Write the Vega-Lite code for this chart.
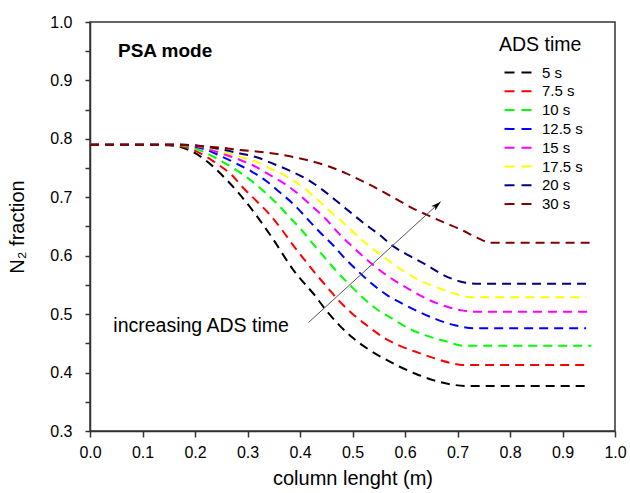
{
  "$schema": "https://vega.github.io/schema/vega-lite/v6.json",
  "width": 525,
  "height": 409,
  "autosize": {"type": "none"},
  "padding": {"left": 90, "top": 22, "right": 15, "bottom": 62},
  "background": "white",
  "config": {
    "font": "Liberation Sans",
    "view": {"stroke": "#333333", "strokeWidth": 1.5},
    "axis": {
      "grid": false,
      "domainColor": "#333333",
      "domainWidth": 1.5,
      "tickColor": "#333333",
      "tickWidth": 1.5,
      "labelColor": "#000000",
      "labelFontSize": 16,
      "labelFont": "Liberation Sans",
      "titleColor": "#000000",
      "titleFont": "Liberation Sans",
      "titleFontSize": 20,
      "titleFontWeight": "normal",
      "labelFlush": false,
      "labelOverlap": false
    },
    "axisX": {
      "values": [0, 0.1, 0.2, 0.3, 0.4, 0.5, 0.6, 0.7, 0.8, 0.9, 1.0],
      "format": ".1f",
      "tickSize": 6,
      "labelPadding": 7,
      "titlePadding": 8
    },
    "axisY": {
      "values": [0.3, 0.35, 0.4, 0.45, 0.5, 0.55, 0.6, 0.65, 0.7, 0.75, 0.8, 0.85, 0.9, 0.95, 1.0],
      "labelExpr": "abs(datum.value*10 - round(datum.value*10)) < 0.01 ? format(datum.value, '.1f') : ''",
      "tickSize": 5,
      "labelPadding": 13,
      "titlePadding": 22
    }
  },
  "datasets": {
    "curves": [
      {"s": "5 s", "x": 0, "y": 0.79}, {"s": "5 s", "x": 0.1, "y": 0.79}, {"s": "5 s", "x": 0.15, "y": 0.789}, {"s": "5 s", "x": 0.18, "y": 0.784}, {"s": "5 s", "x": 0.21, "y": 0.77}, {"s": "5 s", "x": 0.26, "y": 0.73}, {"s": "5 s", "x": 0.305, "y": 0.683}, {"s": "5 s", "x": 0.346, "y": 0.632}, {"s": "5 s", "x": 0.387, "y": 0.576}, {"s": "5 s", "x": 0.43, "y": 0.53}, {"s": "5 s", "x": 0.452, "y": 0.504}, {"s": "5 s", "x": 0.476, "y": 0.48}, {"s": "5 s", "x": 0.5, "y": 0.46}, {"s": "5 s", "x": 0.53, "y": 0.44}, {"s": "5 s", "x": 0.56, "y": 0.424}, {"s": "5 s", "x": 0.59, "y": 0.41}, {"s": "5 s", "x": 0.62, "y": 0.398}, {"s": "5 s", "x": 0.654, "y": 0.387}, {"s": "5 s", "x": 0.686, "y": 0.38}, {"s": "5 s", "x": 0.72, "y": 0.377}, {"s": "5 s", "x": 0.945, "y": 0.377},

      {"s": "7.5 s", "x": 0, "y": 0.79}, {"s": "7.5 s", "x": 0.15, "y": 0.79}, {"s": "7.5 s", "x": 0.18, "y": 0.786}, {"s": "7.5 s", "x": 0.213, "y": 0.774}, {"s": "7.5 s", "x": 0.241, "y": 0.758}, {"s": "7.5 s", "x": 0.27, "y": 0.738}, {"s": "7.5 s", "x": 0.293, "y": 0.715}, {"s": "7.5 s", "x": 0.319, "y": 0.692}, {"s": "7.5 s", "x": 0.343, "y": 0.67}, {"s": "7.5 s", "x": 0.365, "y": 0.645}, {"s": "7.5 s", "x": 0.386, "y": 0.619}, {"s": "7.5 s", "x": 0.406, "y": 0.596}, {"s": "7.5 s", "x": 0.429, "y": 0.57}, {"s": "7.5 s", "x": 0.451, "y": 0.547}, {"s": "7.5 s", "x": 0.473, "y": 0.524}, {"s": "7.5 s", "x": 0.498, "y": 0.502}, {"s": "7.5 s", "x": 0.527, "y": 0.481}, {"s": "7.5 s", "x": 0.556, "y": 0.462}, {"s": "7.5 s", "x": 0.587, "y": 0.447}, {"s": "7.5 s", "x": 0.619, "y": 0.436}, {"s": "7.5 s", "x": 0.651, "y": 0.426}, {"s": "7.5 s", "x": 0.689, "y": 0.416}, {"s": "7.5 s", "x": 0.71, "y": 0.413}, {"s": "7.5 s", "x": 0.945, "y": 0.413},

      {"s": "10 s", "x": 0, "y": 0.79}, {"s": "10 s", "x": 0.15, "y": 0.79}, {"s": "10 s", "x": 0.185, "y": 0.787}, {"s": "10 s", "x": 0.216, "y": 0.778}, {"s": "10 s", "x": 0.244, "y": 0.765}, {"s": "10 s", "x": 0.273, "y": 0.75}, {"s": "10 s", "x": 0.302, "y": 0.732}, {"s": "10 s", "x": 0.329, "y": 0.712}, {"s": "10 s", "x": 0.354, "y": 0.691}, {"s": "10 s", "x": 0.378, "y": 0.668}, {"s": "10 s", "x": 0.403, "y": 0.644}, {"s": "10 s", "x": 0.426, "y": 0.619}, {"s": "10 s", "x": 0.448, "y": 0.596}, {"s": "10 s", "x": 0.47, "y": 0.573}, {"s": "10 s", "x": 0.495, "y": 0.55}, {"s": "10 s", "x": 0.521, "y": 0.527}, {"s": "10 s", "x": 0.547, "y": 0.508}, {"s": "10 s", "x": 0.578, "y": 0.491}, {"s": "10 s", "x": 0.606, "y": 0.476}, {"s": "10 s", "x": 0.638, "y": 0.464}, {"s": "10 s", "x": 0.676, "y": 0.454}, {"s": "10 s", "x": 0.711, "y": 0.446}, {"s": "10 s", "x": 0.955, "y": 0.446},

      {"s": "12.5 s", "x": 0, "y": 0.79}, {"s": "12.5 s", "x": 0.16, "y": 0.79}, {"s": "12.5 s", "x": 0.19, "y": 0.788}, {"s": "12.5 s", "x": 0.219, "y": 0.782}, {"s": "12.5 s", "x": 0.248, "y": 0.771}, {"s": "12.5 s", "x": 0.278, "y": 0.758}, {"s": "12.5 s", "x": 0.308, "y": 0.744}, {"s": "12.5 s", "x": 0.337, "y": 0.727}, {"s": "12.5 s", "x": 0.362, "y": 0.708}, {"s": "12.5 s", "x": 0.389, "y": 0.687}, {"s": "12.5 s", "x": 0.413, "y": 0.664}, {"s": "12.5 s", "x": 0.437, "y": 0.641}, {"s": "12.5 s", "x": 0.464, "y": 0.617}, {"s": "12.5 s", "x": 0.486, "y": 0.595}, {"s": "12.5 s", "x": 0.511, "y": 0.573}, {"s": "12.5 s", "x": 0.537, "y": 0.552}, {"s": "12.5 s", "x": 0.565, "y": 0.533}, {"s": "12.5 s", "x": 0.597, "y": 0.517}, {"s": "12.5 s", "x": 0.629, "y": 0.503}, {"s": "12.5 s", "x": 0.66, "y": 0.491}, {"s": "12.5 s", "x": 0.695, "y": 0.481}, {"s": "12.5 s", "x": 0.73, "y": 0.476}, {"s": "12.5 s", "x": 0.945, "y": 0.476},

      {"s": "15 s", "x": 0, "y": 0.79}, {"s": "15 s", "x": 0.16, "y": 0.79}, {"s": "15 s", "x": 0.19, "y": 0.789}, {"s": "15 s", "x": 0.22, "y": 0.784}, {"s": "15 s", "x": 0.251, "y": 0.775}, {"s": "15 s", "x": 0.283, "y": 0.765}, {"s": "15 s", "x": 0.312, "y": 0.754}, {"s": "15 s", "x": 0.343, "y": 0.738}, {"s": "15 s", "x": 0.371, "y": 0.723}, {"s": "15 s", "x": 0.399, "y": 0.704}, {"s": "15 s", "x": 0.425, "y": 0.683}, {"s": "15 s", "x": 0.45, "y": 0.662}, {"s": "15 s", "x": 0.473, "y": 0.639}, {"s": "15 s", "x": 0.498, "y": 0.617}, {"s": "15 s", "x": 0.524, "y": 0.596}, {"s": "15 s", "x": 0.552, "y": 0.575}, {"s": "15 s", "x": 0.581, "y": 0.557}, {"s": "15 s", "x": 0.613, "y": 0.54}, {"s": "15 s", "x": 0.644, "y": 0.525}, {"s": "15 s", "x": 0.679, "y": 0.513}, {"s": "15 s", "x": 0.711, "y": 0.506}, {"s": "15 s", "x": 0.73, "y": 0.504}, {"s": "15 s", "x": 0.955, "y": 0.504},

      {"s": "17.5 s", "x": 0, "y": 0.79}, {"s": "17.5 s", "x": 0.16, "y": 0.79}, {"s": "17.5 s", "x": 0.19, "y": 0.789}, {"s": "17.5 s", "x": 0.222, "y": 0.786}, {"s": "17.5 s", "x": 0.254, "y": 0.778}, {"s": "17.5 s", "x": 0.283, "y": 0.77}, {"s": "17.5 s", "x": 0.316, "y": 0.761}, {"s": "17.5 s", "x": 0.346, "y": 0.748}, {"s": "17.5 s", "x": 0.378, "y": 0.734}, {"s": "17.5 s", "x": 0.406, "y": 0.717}, {"s": "17.5 s", "x": 0.432, "y": 0.697}, {"s": "17.5 s", "x": 0.456, "y": 0.677}, {"s": "17.5 s", "x": 0.483, "y": 0.656}, {"s": "17.5 s", "x": 0.509, "y": 0.634}, {"s": "17.5 s", "x": 0.537, "y": 0.613}, {"s": "17.5 s", "x": 0.565, "y": 0.594}, {"s": "17.5 s", "x": 0.595, "y": 0.575}, {"s": "17.5 s", "x": 0.625, "y": 0.559}, {"s": "17.5 s", "x": 0.657, "y": 0.547}, {"s": "17.5 s", "x": 0.692, "y": 0.536}, {"s": "17.5 s", "x": 0.727, "y": 0.529}, {"s": "17.5 s", "x": 0.945, "y": 0.529},

      {"s": "20 s", "x": 0, "y": 0.79}, {"s": "20 s", "x": 0.17, "y": 0.79}, {"s": "20 s", "x": 0.2, "y": 0.789}, {"s": "20 s", "x": 0.225, "y": 0.786}, {"s": "20 s", "x": 0.256, "y": 0.781}, {"s": "20 s", "x": 0.286, "y": 0.775}, {"s": "20 s", "x": 0.319, "y": 0.768}, {"s": "20 s", "x": 0.35, "y": 0.757}, {"s": "20 s", "x": 0.382, "y": 0.745}, {"s": "20 s", "x": 0.413, "y": 0.731}, {"s": "20 s", "x": 0.441, "y": 0.714}, {"s": "20 s", "x": 0.469, "y": 0.694}, {"s": "20 s", "x": 0.495, "y": 0.675}, {"s": "20 s", "x": 0.521, "y": 0.656}, {"s": "20 s", "x": 0.551, "y": 0.636}, {"s": "20 s", "x": 0.578, "y": 0.616}, {"s": "20 s", "x": 0.608, "y": 0.6}, {"s": "20 s", "x": 0.641, "y": 0.584}, {"s": "20 s", "x": 0.673, "y": 0.567}, {"s": "20 s", "x": 0.705, "y": 0.556}, {"s": "20 s", "x": 0.74, "y": 0.552}, {"s": "20 s", "x": 0.955, "y": 0.552},

      {"s": "30 s", "x": 0, "y": 0.79}, {"s": "30 s", "x": 0.18, "y": 0.79}, {"s": "30 s", "x": 0.216, "y": 0.787}, {"s": "30 s", "x": 0.251, "y": 0.785}, {"s": "30 s", "x": 0.286, "y": 0.781}, {"s": "30 s", "x": 0.321, "y": 0.778}, {"s": "30 s", "x": 0.356, "y": 0.774}, {"s": "30 s", "x": 0.392, "y": 0.768}, {"s": "30 s", "x": 0.425, "y": 0.761}, {"s": "30 s", "x": 0.454, "y": 0.753}, {"s": "30 s", "x": 0.488, "y": 0.741}, {"s": "30 s", "x": 0.518, "y": 0.728}, {"s": "30 s", "x": 0.549, "y": 0.714}, {"s": "30 s", "x": 0.581, "y": 0.698}, {"s": "30 s", "x": 0.613, "y": 0.682}, {"s": "30 s", "x": 0.644, "y": 0.669}, {"s": "30 s", "x": 0.674, "y": 0.657}, {"s": "30 s", "x": 0.708, "y": 0.644}, {"s": "30 s", "x": 0.737, "y": 0.631}, {"s": "30 s", "x": 0.765, "y": 0.622}, {"s": "30 s", "x": 0.955, "y": 0.622}
    ],
    "arrow": [{"x": 0.4158, "y": 0.4854, "x2": 0.668, "y2": 0.6925}],
    "labels": [
      {"x": 0.0533, "y": 0.94, "text": "PSA mode", "kind": "bold"},
      {"x": 0.0444, "y": 0.47, "text": "increasing ADS time", "kind": "plain"}
    ]
  },
  "layer": [
    {
      "data": {"name": "curves"},
      "mark": {"type": "line", "strokeWidth": 2, "strokeDash": [9, 6], "interpolate": "monotone"},
      "encoding": {
        "x": {"field": "x", "type": "quantitative", "title": "column lenght (m)", "scale": {"domain": [0, 1], "nice": false, "zero": false}},
        "y": {"field": "y", "type": "quantitative", "title": "N₂ fraction", "scale": {"domain": [0.3, 1.0], "nice": false, "zero": false}},
        "color": {
          "field": "s", "type": "nominal",
          "scale": {
            "domain": ["5 s", "7.5 s", "10 s", "12.5 s", "15 s", "17.5 s", "20 s", "30 s"],
            "range": ["#000000", "#ff0000", "#00ff00", "#0000ff", "#ff00ff", "#ffff00", "#000080", "#800000"]
          },
          "legend": {
            "orient": "none",
            "legendX": 409,
            "legendY": 13.5,
            "title": "ADS time",
            "titleFontSize": 19.5,
            "titleFontWeight": "normal",
            "titleColor": "#000000",
            "titleFont": "Liberation Sans",
            "titlePadding": 10,
            "labelFontSize": 15,
            "labelColor": "#000000",
            "labelFont": "Liberation Sans",
            "labelOffset": 28,
            "symbolType": "M-0.4,0L5.2,0",
            "symbolSize": 100,
            "symbolStrokeWidth": 2,
            "symbolDash": [10, 7],
            "rowPadding": 2.8,
            "padding": 0
          }
        }
      }
    },
    {
      "data": {"name": "arrow"},
      "mark": {"type": "rule", "color": "#555555", "strokeWidth": 1},
      "encoding": {
        "x": {"field": "x", "type": "quantitative", "title": "column lenght (m)", "scale": {"domain": [0, 1], "nice": false, "zero": false}},
        "y": {"field": "y", "type": "quantitative", "title": "N₂ fraction", "scale": {"domain": [0.3, 1.0], "nice": false, "zero": false}},
        "x2": {"field": "x2"},
        "y2": {"field": "y2"}
      }
    },
    {
      "data": {"name": "arrow"},
      "mark": {"type": "point", "shape": "M0,0L-0.6,2L0,1.5L0.6,2Z", "size": 100, "angle": 48, "filled": true, "color": "#000000", "opacity": 1},
      "encoding": {
        "x": {"field": "x2", "type": "quantitative", "title": "column lenght (m)", "scale": {"domain": [0, 1], "nice": false, "zero": false}},
        "y": {"field": "y2", "type": "quantitative", "title": "N₂ fraction", "scale": {"domain": [0.3, 1.0], "nice": false, "zero": false}}
      }
    },
    {
      "data": {"name": "labels"},
      "transform": [{"filter": "datum.kind == 'bold'"}],
      "mark": {"type": "text", "align": "left", "baseline": "alphabetic", "fontSize": 19, "fontWeight": "bold", "font": "Liberation Sans", "color": "#000000"},
      "encoding": {
        "x": {"field": "x", "type": "quantitative", "title": "column lenght (m)", "scale": {"domain": [0, 1], "nice": false, "zero": false}},
        "y": {"field": "y", "type": "quantitative", "title": "N₂ fraction", "scale": {"domain": [0.3, 1.0], "nice": false, "zero": false}},
        "text": {"field": "text"}
      }
    },
    {
      "data": {"name": "labels"},
      "transform": [{"filter": "datum.kind == 'plain'"}],
      "mark": {"type": "text", "align": "left", "baseline": "alphabetic", "fontSize": 19.5, "font": "Liberation Sans", "color": "#000000"},
      "encoding": {
        "x": {"field": "x", "type": "quantitative", "title": "column lenght (m)", "scale": {"domain": [0, 1], "nice": false, "zero": false}},
        "y": {"field": "y", "type": "quantitative", "title": "N₂ fraction", "scale": {"domain": [0.3, 1.0], "nice": false, "zero": false}},
        "text": {"field": "text"}
      }
    }
  ]
}
